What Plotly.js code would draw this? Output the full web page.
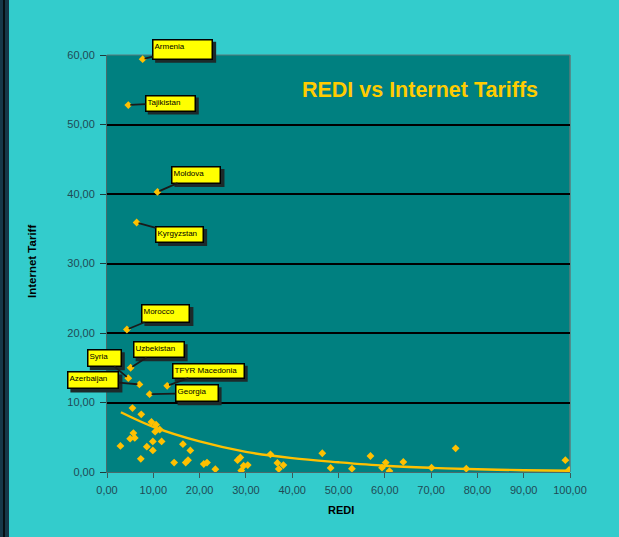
<!DOCTYPE html>
<html><head><meta charset="utf-8">
<script src="https://cdn.plot.ly/plotly-3.0.1.min.js"></script>
<style>html,body{margin:0;padding:0;background:#33CCCC;overflow:hidden}#chart{width:619px;height:537px}</style>
</head><body><div id="chart"></div>
<script>
// ---- data ----
const labeledCountries = ['Armenia','Tajikistan','Moldova','Kyrgyzstan','Morocco','Uzbekistan','Syria','Azerbaijan','TFYR Macedonia','Georgia'];
const labeledRedi   = [7.7, 4.6, 10.9, 6.4, 4.3, 5.1, 4.6, 7.0, 13.0, 9.2];
const labeledTariff = [59.4, 52.8, 40.3, 35.9, 20.5, 15.0, 13.5, 12.6, 12.4, 11.2];

const otherRedi = [5.5, 7.4, 9.6, 10.6, 10.4, 11.4, 5.7, 5.0, 6.0, 2.9, 7.3, 8.6, 9.9, 9.9, 11.8,
  14.5, 16.4, 17.0, 17.5, 18.0, 20.9, 21.6, 23.4, 28.2, 28.8, 29.0, 29.5, 30.4,
  35.3, 36.8, 37.1, 38.1, 46.5, 48.3, 52.9, 56.9, 59.4, 60.2, 61.0, 64.0, 70.1, 75.3, 77.6, 99.0, 99.8];
const otherTariff = [9.2, 8.3, 7.2, 6.8, 5.8, 6.1, 5.6, 4.8, 4.9, 3.75, 1.9, 3.65, 4.4, 3.1, 4.4,
  1.35, 4.0, 1.35, 1.7, 3.1, 1.15, 1.35, 0.4, 1.7, 2.1, 0.2, 0.9, 1.0,
  2.55, 1.3, 0.43, 1.0, 2.7, 0.58, 0.48, 2.3, 0.62, 1.35, 0.14, 1.45, 0.62, 3.4, 0.48, 1.7, 0.3];

const trendRedi   = [3, 10, 20, 30, 40, 50, 60, 70, 80, 90, 100];
const trendTariff = [8.6, 6.5, 4.4, 2.9, 2.0, 1.4, 0.9, 0.6, 0.4, 0.26, 0.17];

const xTickVals = [0,10,20,30,40,50,60,70,80,90,100];
const yTickVals = [0,10,20,30,40,50,60];
const xRange = [0, 100];
const yRange = [0, 60];

// ---- label placement (pixels) ----
const labelPlacement = {
  'Armenia':        {ax: 40,  ay: -10, w: 61, h: 21},
  'Tajikistan':     {ax: 42,  ay: -2,  w: 51, h: 17},
  'Moldova':        {ax: 39,  ay: -17, w: 50, h: 18},
  'Kyrgyzstan':     {ax: 43,  ay: 12,  w: 49, h: 17},
  'Morocco':        {ax: 39,  ay: -16, w: 49, h: 19},
  'Uzbekistan':     {ax: 28,  ay: -18, w: 52, h: 17},
  'Syria':          {ax: -24, ay: -20, w: 35, h: 18},
  'Azerbaijan':     {ax: -46, ay: -4,  w: 52, h: 18},
  'TFYR Macedonia': {ax: 41,  ay: -15, w: 73, h: 16},
  'Georgia':        {ax: 47,  ay: -1,  w: 44, h: 18}
};

const markerStyle = {symbol: 'diamond', color: '#FFC000', size: 6, line: {width: 0}};

const traces = [
  {x: trendRedi, y: trendTariff, mode: 'lines', line: {color: '#FFC000', width: 2.4, shape: 'spline'}, hoverinfo: 'skip'},
  {x: otherRedi, y: otherTariff, mode: 'markers', marker: markerStyle},
  {x: labeledRedi, y: labeledTariff, text: labeledCountries, mode: 'markers', marker: markerStyle}
];

const W = 619, H = 537, ML = 107, MR = 49, MT = 55, MB = 65;
const PW = W - ML - MR, PH = H - MT - MB;
const px = v => (v - ML) / PW;
const py = v => (H - MB - v) / PH;
const FONT = 'Liberation Sans, Arial, sans-serif';

const annotations = [];
const shapes = [];
labeledCountries.forEach((name, i) => {
  const p = labelPlacement[name];
  // drop shadow behind the label box (pixel-sized, anchored at the point)
  shapes.push({
    type: 'rect', xref: 'paper', yref: 'paper', layer: 'above',
    xsizemode: 'pixel', ysizemode: 'pixel',
    xanchor: (labeledRedi[i] - xRange[0]) / (xRange[1] - xRange[0]),
    yanchor: (labeledTariff[i] - yRange[0]) / (yRange[1] - yRange[0]),
    x0: p.ax - p.w / 2 + 3, x1: p.ax + p.w / 2 + 3,
    y0: -p.ay - p.h / 2 - 3, y1: -p.ay + p.h / 2 - 3,
    fillcolor: '#1c2a2a', line: {width: 0}
  });
  annotations.push({
    x: labeledRedi[i], y: labeledTariff[i], xref: 'x', yref: 'y',
    showarrow: true, arrowhead: 0, arrowwidth: 1.8, arrowcolor: '#1a1a1a',
    ax: p.ax, ay: p.ay, standoff: 2,
    text: name, align: 'left', valign: 'top',
    font: {size: 8, color: '#000', family: FONT},
    bgcolor: '#FFFF00', bordercolor: '#000', borderwidth: 1.5, borderpad: 1,
    width: p.w - 5, height: p.h - 5
  });
});

// axis titles
annotations.push({
  text: '<b>Internet Tariff</b>', xref: 'paper', yref: 'paper',
  x: px(32), y: py(262), textangle: -90, showarrow: false,
  xanchor: 'center', yanchor: 'middle',
  font: {size: 11.5, color: '#000', family: FONT}
});
annotations.push({
  text: '<b>REDI</b>', xref: 'paper', yref: 'paper',
  x: px(341), y: py(510), showarrow: false,
  xanchor: 'center', yanchor: 'middle',
  font: {size: 11, color: '#000', family: FONT}
});

shapes.push(
  {type: 'rect', xref: 'paper', yref: 'paper', layer: 'above',
   x0: px(0), x1: px(9), y0: py(H), y1: py(0),
   fillcolor: '#163848', line: {width: 0}},
  {type: 'line', xref: 'paper', yref: 'paper', layer: 'above',
   x0: px(4), x1: px(4), y0: py(H), y1: py(0),
   line: {color: '#000000', width: 1.5}},
  {type: 'line', xref: 'paper', yref: 'paper', layer: 'below',
   x0: 1, x1: 1, y0: 0, y1: 1, line: {color: '#5a7a7a', width: 1.5}},
  {type: 'line', xref: 'paper', yref: 'paper', layer: 'below',
   x0: 0, x1: 1, y0: 1, y1: 1, line: {color: '#5a7a7a', width: 1}}
);

const layout = {
  width: W, height: H,
  margin: {l: ML, r: MR, t: MT, b: MB, pad: 0},
  paper_bgcolor: '#33CCCC', plot_bgcolor: '#008080',
  showlegend: false,
  separators: ',.',
  font: {family: FONT, size: 11, color: '#1f4a55'},
  title: {
    text: '<b>REDI vs Internet Tariffs</b>',
    x: px(420), xref: 'paper', xanchor: 'center',
    y: py(89), yref: 'paper', yanchor: 'middle',
    font: {size: 21.5, color: '#FFCC00', family: FONT}
  },
  xaxis: {
    range: xRange, tickvals: xTickVals, tickformat: '.2f',
    showgrid: false, zeroline: false,
    showline: true, linecolor: '#4a6a6a', linewidth: 1,
    ticks: 'outside', ticklen: 5, tickcolor: '#3a5a5a',
    ticklabelstandoff: 3,
    tickfont: {size: 11, color: '#1f4a55', family: FONT}, fixedrange: true
  },
  yaxis: {
    range: yRange, tickvals: yTickVals, tickformat: '.2f',
    showgrid: true, gridcolor: '#000000', gridwidth: 2,
    zeroline: false,
    showline: true, linecolor: '#4a6a6a', linewidth: 1,
    ticks: 'outside', ticklen: 6, tickcolor: '#1f3a3a',
    ticklabelstandoff: 3,
    tickfont: {size: 11, color: '#1f4a55', family: FONT}, fixedrange: true
  },
  annotations: annotations,
  shapes: shapes
};

Plotly.newPlot('chart', traces, layout, {displayModeBar: false, staticPlot: true});
</script>
</body></html>
